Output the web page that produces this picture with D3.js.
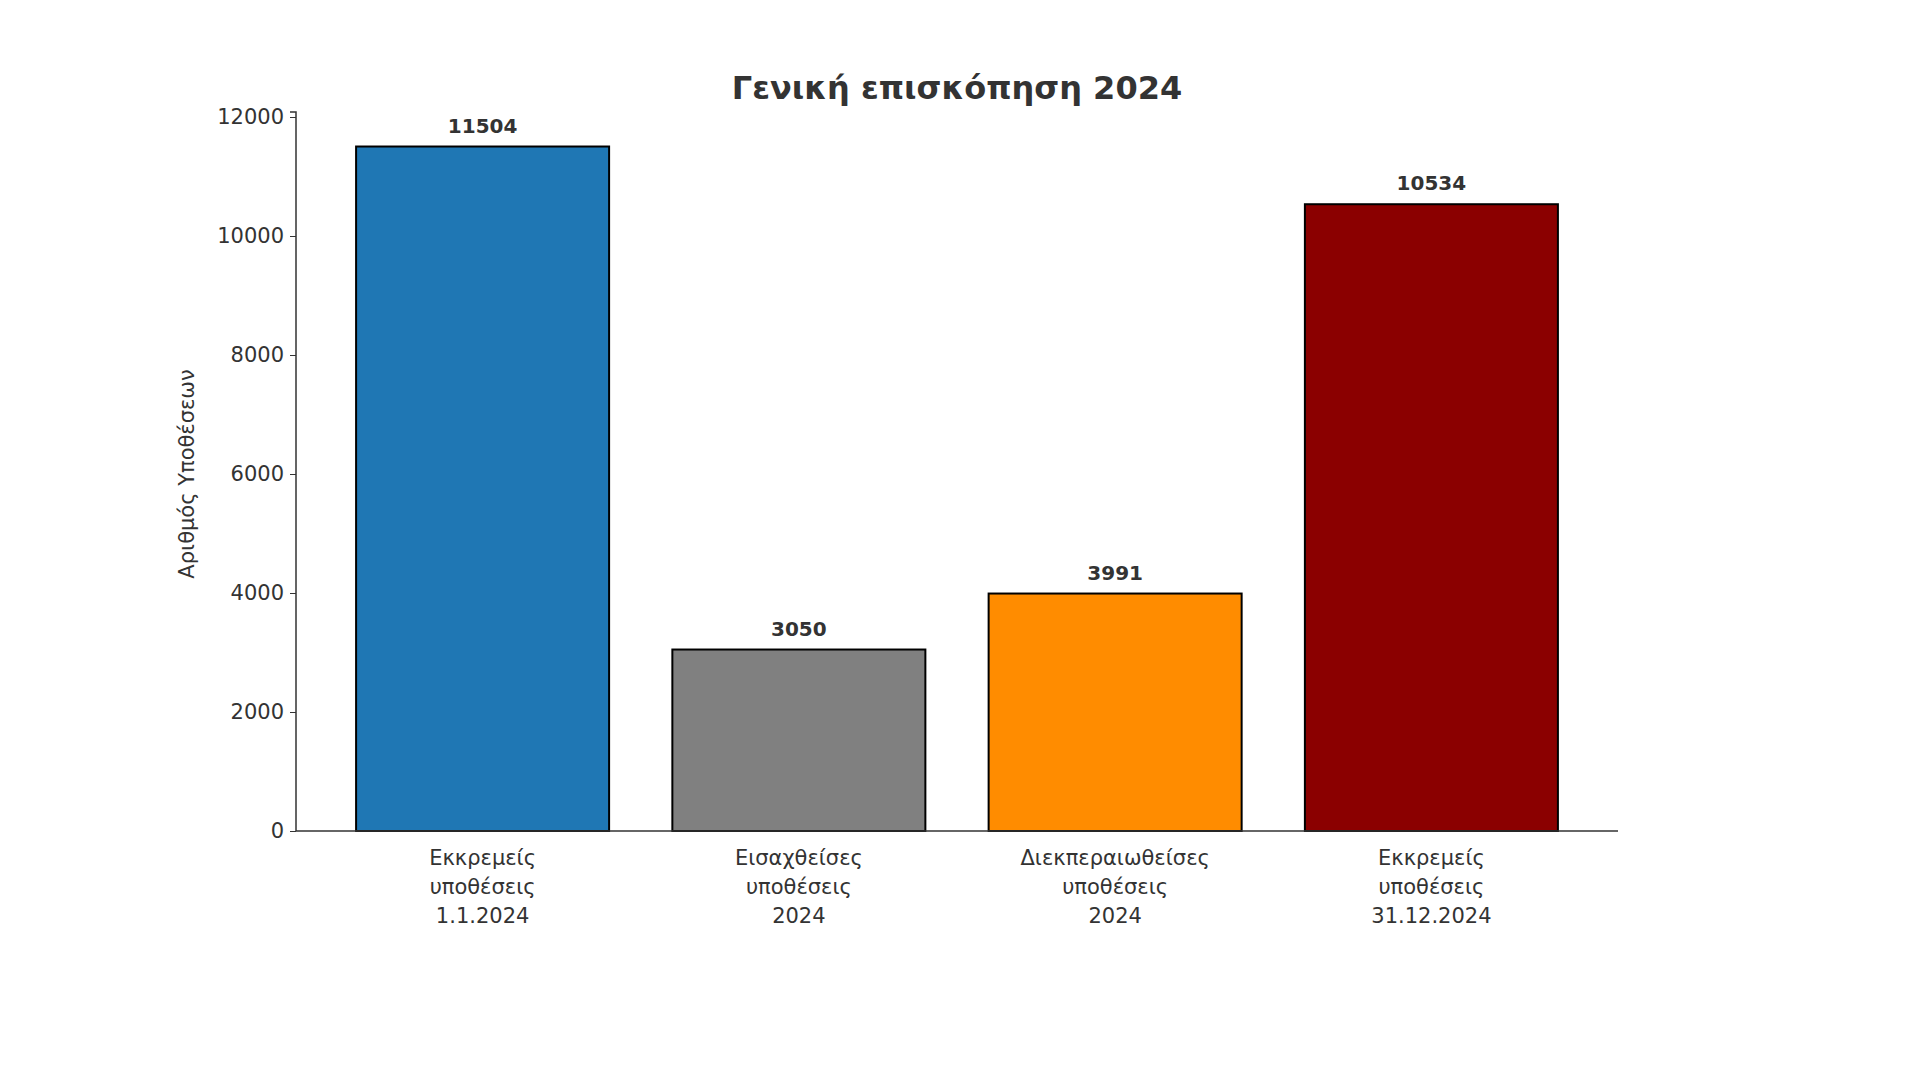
<!DOCTYPE html>
<html><head><meta charset="utf-8">
<script src="https://cdn.jsdelivr.net/npm/d3@7"></script>
<style>body{margin:0;background:#fff}svg{display:block;font-family:"DejaVu Sans",sans-serif}</style>
</head><body><svg id="c" width="1910" height="1074"></svg>
<script>
const categories = [["Εκκρεμείς","υποθέσεις","1.1.2024"],["Εισαχθείσες","υποθέσεις","2024"],["Διεκπεραιωθείσες","υποθέσεις","2024"],["Εκκρεμείς","υποθέσεις","31.12.2024"]];
const values = [11504, 3050, 3991, 10534];
const colors = ["#1f77b4","#808080","#ff8c00","#8b0000"];
const yTicks = [0,2000,4000,6000,8000,10000,12000];

const svg = d3.select("#c");
const L=296,R=1618,T=117,B=831;
const x = d3.scaleBand().domain(d3.range(values.length)).range([L,R]).paddingInner(0.2).paddingOuter(0.19);
const y = d3.scaleLinear().domain([0,12000]).range([B,T]);

svg.selectAll("rect.bar").data(values).join("rect")
  .attr("x",(d,i)=>x(i)).attr("width",x.bandwidth())
  .attr("y",d=>y(d)).attr("height",d=>B-y(d))
  .attr("fill",(d,i)=>colors[i]).attr("stroke","#000").attr("stroke-width",2);

svg.selectAll("text.val").data(values).join("text")
  .attr("x",(d,i)=>x(i)+x.bandwidth()/2).attr("y",d=>y(d)-14)
  .attr("text-anchor","middle").attr("font-size",20).attr("font-weight","bold").attr("fill","#333")
  .text(d=>d);

const ya = svg.append("g").attr("transform",`translate(${L},0)`).call(d3.axisLeft(y).tickValues(yTicks).tickSize(6).tickPadding(6).tickFormat(d3.format("d")));
ya.selectAll("text").attr("font-size",21).attr("fill","#333").attr("font-family","DejaVu Sans");
ya.selectAll("line").attr("stroke","#333");
ya.select(".domain").attr("stroke","#333").attr("stroke-width",1.5).attr("d",`M-6,${T-5}H0V${B}`);

svg.append("line").attr("x1",L).attr("x2",R).attr("y1",B).attr("y2",B).attr("stroke","#333").attr("stroke-width",1.5);

const xl = svg.selectAll("text.cat").data(categories).join("text")
  .attr("text-anchor","middle").attr("font-size",21).attr("fill","#333")
  .attr("transform",(d,i)=>`translate(${x(i)+x.bandwidth()/2},${B+34})`);
xl.selectAll("tspan").data(d=>d).join("tspan").attr("x",0).attr("dy",(d,j)=>j?29:0).text(d=>d);

svg.append("text").attr("transform",`translate(194,${(T+B)/2}) rotate(-90)`).attr("text-anchor","middle")
  .attr("font-size",21).attr("fill","#333").text("Αριθμός Υποθέσεων");

svg.append("text").attr("x",(L+R)/2).attr("y",99).attr("text-anchor","middle")
  .attr("font-size",32).attr("font-weight","bold").attr("fill","#333").text("Γενική επισκόπηση 2024");
</script></body></html>
